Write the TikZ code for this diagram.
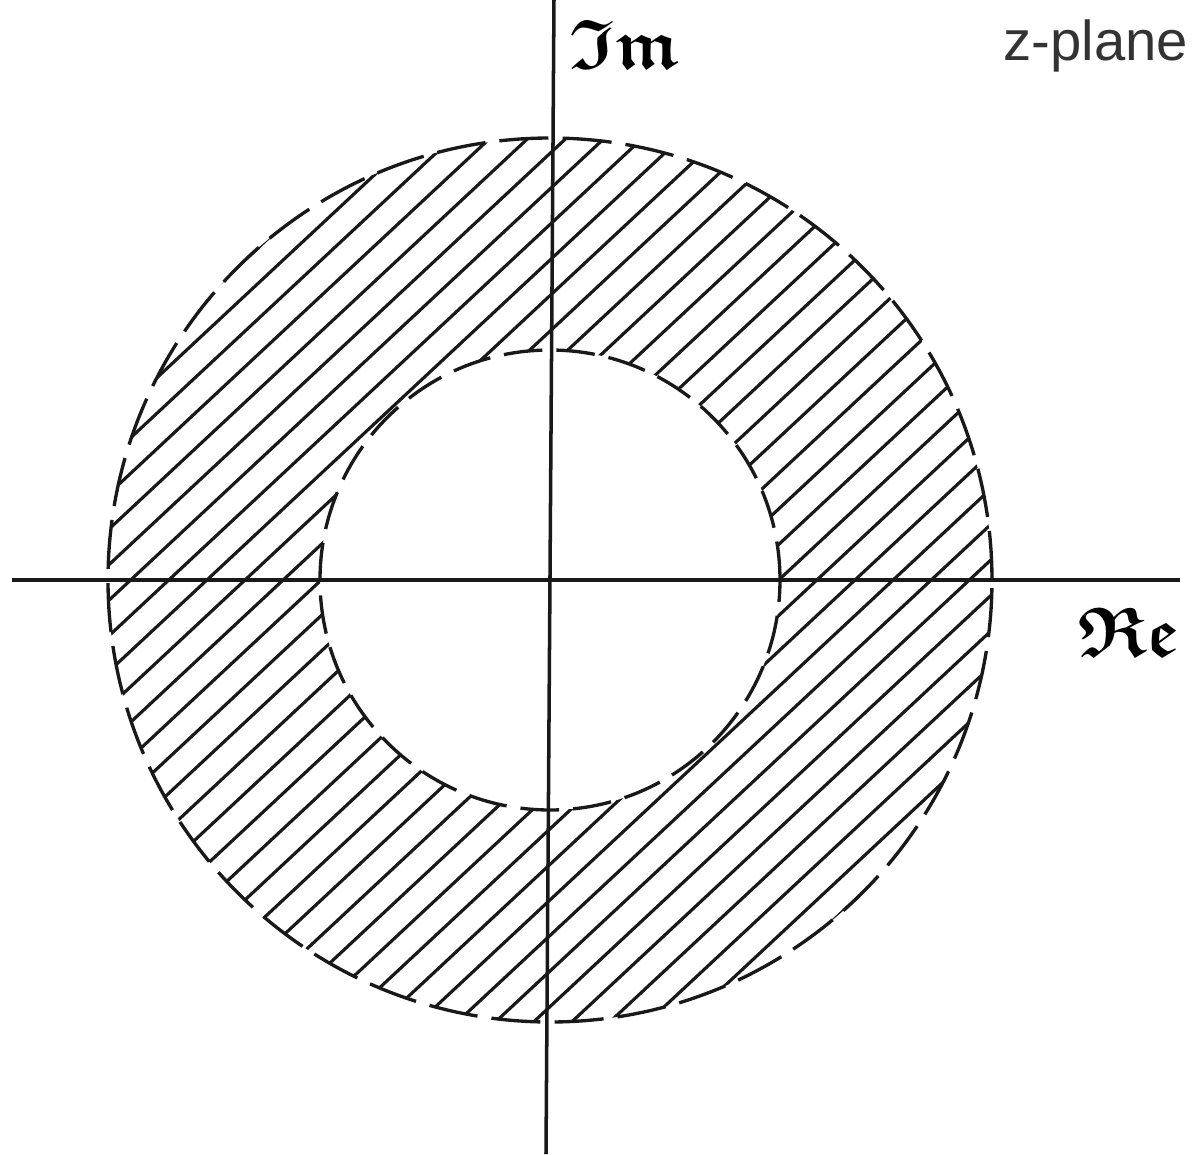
\documentclass[tikz,border=0pt]{standalone}
\usepackage{amsmath}
\usepackage{amssymb}
\usepackage{fontspec}
\setsansfont{Liberation Sans}
\usepackage{tikz}
\usetikzlibrary{positioning}
\tikzset{
  axis/.style={draw=black!90, line width=1pt},
  rim/.style={draw=black!90, line width=0.95pt, dash pattern=on 14pt off 4pt},
  innerrim/.style={draw=black!90, line width=0.95pt, dash pattern=on 11pt off 4pt},
  hatch/.style={draw=black!90, line width=0.9pt},
  axlabel/.style={font=\fontsize{20}{24}\selectfont, inner sep=0pt},
  planelabel/.style={font=\sffamily\fontsize{16}{19}\selectfont, text=black!80, inner sep=0pt}
}

\begin{document}
\begin{tikzpicture}
\useasboundingbox (-5.50,-5.74) rectangle (6.45,5.80);
% hatched annulus
\begin{scope}[even odd rule]
\clip (0,0) circle (4.42) (0,0) circle (2.30);
\begin{scope}[rotate=43]
\foreach \k in {-18,...,18}
  \draw[hatch] (-4.6,\k*0.26) -- (4.6,\k*0.26);
\end{scope}
\end{scope}
\draw[rim] (0,0) circle (4.42);
\draw[innerrim] (0,0) circle (2.30);
% axes
\coordinate (west) at (-5.38,0);
\coordinate (east) at (6.30,0);
\coordinate (north) at (0.04,5.80);
\coordinate (south) at (-0.04,-5.74);
\draw[axis] (west) -- (east);
\draw[axis] (north) -- (south);
% labels
\node[axlabel] (im) at (0.75,5.36) {$\boldsymbol{\mathfrak{Im}}$};
\node[axlabel] (re) at (5.79,-0.52) {$\boldsymbol{\mathfrak{Re}}$};
\node[planelabel] (zplane) at (5.46,5.34) {z-plane};
\end{tikzpicture}
\end{document}
